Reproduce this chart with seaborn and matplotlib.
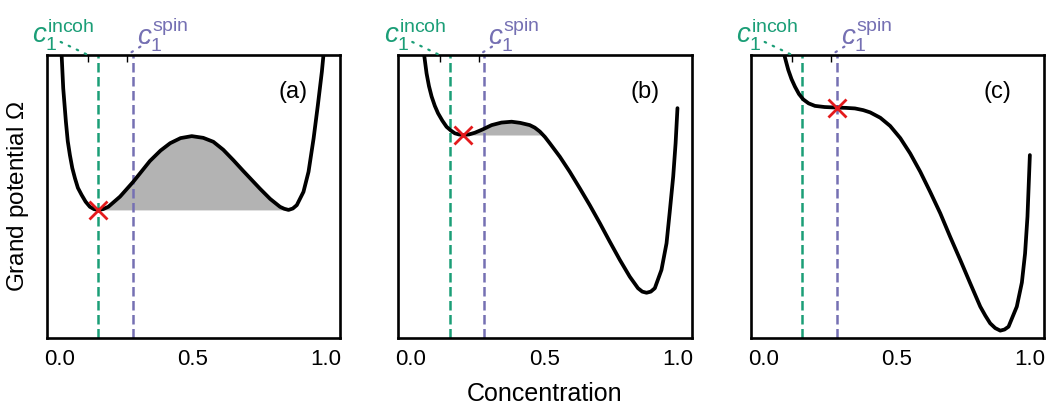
import numpy as np
import pandas as pd
import matplotlib
matplotlib.use("Agg")
import matplotlib.pyplot as plt
import seaborn as sns

# ---------------- data ----------------
a_x = [0.009, 0.015, 0.025, 0.032, 0.040, 0.049, 0.059, 0.070, 0.084, 0.099, 0.115, 0.130,
       0.146, 0.165, 0.184, 0.228, 0.278, 0.340, 0.380, 0.416, 0.455, 0.497, 0.540, 0.578,
       0.615, 0.653, 0.690, 0.716, 0.753, 0.791, 0.828, 0.844, 0.860, 0.876, 0.891, 0.916,
       0.935, 0.954, 0.970, 0.985, 0.991]
a_y = [1.000, 0.882, 0.764, 0.695, 0.646, 0.600, 0.564, 0.530, 0.505, 0.481, 0.463, 0.455,
       0.452, 0.455, 0.463, 0.499, 0.552, 0.625, 0.662, 0.688, 0.706, 0.713, 0.707, 0.693,
       0.665, 0.628, 0.590, 0.564, 0.527, 0.491, 0.463, 0.456, 0.452, 0.457, 0.469, 0.516,
       0.587, 0.705, 0.823, 0.941, 1.000]

b_x = [0.050, 0.059, 0.068, 0.078, 0.090, 0.102, 0.118, 0.134, 0.150, 0.165, 0.180, 0.196,
       0.218, 0.240, 0.270, 0.303, 0.340, 0.378, 0.410, 0.446, 0.465, 0.484, 0.503, 0.521,
       0.559, 0.596, 0.634, 0.671, 0.709, 0.746, 0.784, 0.821, 0.852, 0.868, 0.884, 0.900,
       0.915, 0.940, 0.959, 0.971, 0.984, 0.993, 1.000]
b_y = [1.000, 0.935, 0.890, 0.853, 0.820, 0.794, 0.768, 0.746, 0.733, 0.723, 0.719, 0.717,
       0.719, 0.725, 0.737, 0.752, 0.761, 0.764, 0.760, 0.752, 0.743, 0.729, 0.710, 0.688,
       0.640, 0.587, 0.528, 0.469, 0.405, 0.340, 0.275, 0.216, 0.175, 0.163, 0.159, 0.163,
       0.175, 0.240, 0.334, 0.445, 0.570, 0.688, 0.812]

c_x = [0.079, 0.086, 0.094, 0.106, 0.119, 0.134, 0.150, 0.170, 0.194, 0.230, 0.275, 0.310,
       0.344, 0.375, 0.401, 0.439, 0.476, 0.514, 0.551, 0.589, 0.626, 0.664, 0.701, 0.739,
       0.776, 0.814, 0.833, 0.851, 0.870, 0.889, 0.905, 0.920, 0.951, 0.970, 0.982, 0.991,
       1.000]
c_y = [1.000, 0.975, 0.947, 0.915, 0.888, 0.862, 0.843, 0.829, 0.820, 0.816, 0.814, 0.813,
       0.811, 0.805, 0.797, 0.778, 0.749, 0.706, 0.652, 0.587, 0.516, 0.440, 0.357, 0.275,
       0.193, 0.110, 0.078, 0.051, 0.034, 0.025, 0.029, 0.039, 0.110, 0.195, 0.298, 0.428,
       0.646]

panel_labels = ["(a)", "(b)", "(c)"]
mark_x = [0.146, 0.196, 0.275]          # red cross (current state)
mark_y = [0.452, 0.717, 0.814]
fill_end = [0.860, 0.600, None]         # end of shaded barrier region
c_incoh = 0.146
c_spin = 0.275
top_tick_incoh = 0.108
top_tick_spin = 0.254
xticks = [0.0, 0.5, 1.0]
xticklabels = ["0.0", "0.5", "1.0"]

GREEN = "#1b9e77"
PURPLE = "#7570b3"
RED = "#e41a1c"
GREY = "#b3b3b3"

# ---------------- style ----------------
sns.set_style("white")
plt.rcParams["font.family"] = ["Liberation Sans", "DejaVu Sans"]
plt.rcParams["mathtext.fontset"] = "custom"
plt.rcParams["mathtext.rm"] = "Liberation Sans"
plt.rcParams["mathtext.it"] = "Liberation Sans:italic"
plt.rcParams["mathtext.bf"] = "Liberation Sans:bold"
plt.rcParams["text.color"] = "black"
plt.rcParams["axes.labelcolor"] = "black"
plt.rcParams["xtick.color"] = "black"
plt.rcParams["ytick.color"] = "black"

W, H = 1046, 405
fig = plt.figure(figsize=(W / 100, H / 100), dpi=100)

lefts = [46.7, 398.3, 750.7]
ax_w = 293.3
top_px, bot_px = 55.0, 337.7

curves = [(a_x, a_y), (b_x, b_y), (c_x, c_y)]
axes = []
dash = (0, (3.8, 1.8))
dots = (0, (0.7, 3.3))
for i, (cx, cy) in enumerate(curves):
    ax = fig.add_axes([lefts[i] / W, (H - bot_px) / H, ax_w / W, (bot_px - top_px) / H])
    axes.append(ax)
    df = pd.DataFrame({"x": cx, "y": cy})

    # shaded region
    if fill_end[i] is not None:
        xs = np.array(cx)
        ys = np.array(cy)
        m = (ys >= mark_y[i] - 1e-9) & (xs >= mark_x[i]) & (xs <= fill_end[i])
        ax.fill_between(xs, mark_y[i], ys, where=m, interpolate=True,
                        color=GREY, lw=0, zorder=1)

    ax.axvline(c_incoh, color=GREEN, lw=1.8, ls=dash, zorder=2)
    ax.axvline(c_spin, color=PURPLE, lw=1.8, ls=dash, zorder=2)

    sns.lineplot(data=df, x="x", y="y", ax=ax, color="black", lw=2.7,
                 sort=False, estimator=None, zorder=3)
    ax.plot([mark_x[i]], [mark_y[i]], marker="x", ms=13, mew=2, color=RED,
            ls="none", zorder=4)

    ax.set_xlim(-0.047, 1.053)
    ax.set_ylim(0, 1)
    ax.set_xticks(xticks)
    ax.set_xticklabels(xticklabels)
    ax.set_yticks([])
    ax.tick_params(axis="x", direction="in", length=6, width=1, labelsize=16,
                   pad=8, top=False)
    ax.set_xlabel("")
    ax.set_ylabel("")
    for s in ax.spines.values():
        s.set_linewidth(1.9)
        s.set_color("black")

    sec = ax.secondary_xaxis("top")
    sec.set_xticks([top_tick_incoh, top_tick_spin])
    sec.set_xticklabels([])
    sec.tick_params(direction="in", length=5, width=1, color="black")
    sec.spines["top"].set_visible(False)

    ax.text(0.84, 0.87, panel_labels[i], transform=ax.transAxes, ha="center",
            va="center", fontsize=17)

    # labels for c1
    ax.annotate(r"$c_1^{\mathrm{incoh}}$", xy=(top_tick_incoh, 1.0),
                xycoords=("data", "axes fraction"),
                xytext=(-17.9, 15.0), textcoords="offset points",
                ha="center", va="center", fontsize=20, color=GREEN,
                annotation_clip=False)
    ax.annotate("", xy=(top_tick_incoh, 1.0), xycoords=("data", "axes fraction"),
                xytext=(-19.7, 9.4), textcoords="offset points",
                annotation_clip=False,
                arrowprops=dict(arrowstyle="-", color=GREEN, lw=1.6, ls=dots,
                                shrinkA=0, shrinkB=1))
    ax.annotate(r"$c_1^{\mathrm{spin}}$", xy=(top_tick_spin, 1.0),
                xycoords=("data", "axes fraction"),
                xytext=(25.6, 15.0), textcoords="offset points",
                ha="center", va="center", fontsize=20, color=PURPLE,
                annotation_clip=False)
    ax.annotate("", xy=(top_tick_spin, 1.0), xycoords=("data", "axes fraction"),
                xytext=(15.1, 9.4), textcoords="offset points",
                annotation_clip=False,
                arrowprops=dict(arrowstyle="-", color=PURPLE, lw=1.6, ls=dots,
                                shrinkA=0, shrinkB=1))

axes[0].set_ylabel(r"Grand potential $\mathit{\Omega}$", fontsize=17.5, labelpad=11)
axes[1].set_xlabel("Concentration", fontsize=18, labelpad=9)

fig.savefig("out.png", dpi=100)
